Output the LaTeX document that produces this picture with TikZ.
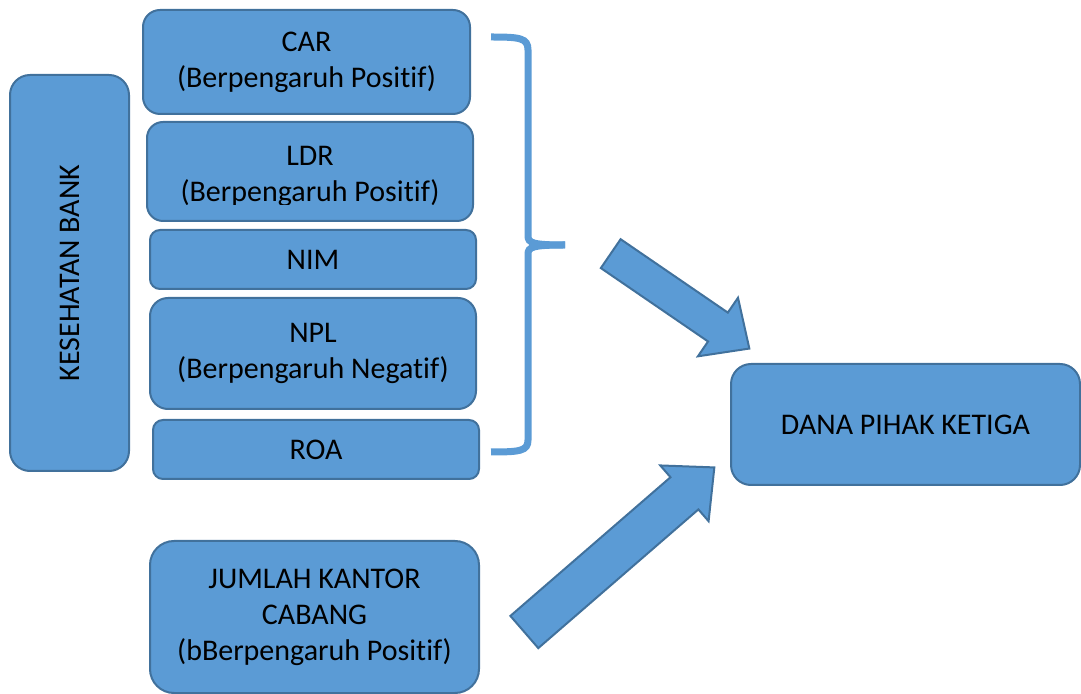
\documentclass[tikz,border=0pt]{standalone}
\usepackage{fontspec}
\setmainfont{Carlito}[Ligatures=NoCommon]
\usetikzlibrary{shapes.arrows}

\definecolor{boxfill}{HTML}{5B9BD5}
\definecolor{boxline}{HTML}{41719C}

\tikzset{
    box/.style={draw=boxline, fill=boxfill, line width=1pt, align=center,
        inner sep=0pt, rounded corners=#1,
        font=\fontsize{15pt}{18pt}\selectfont},
    box/.default=9pt,
    blockarrow/.style={draw=boxline, fill=boxfill, line width=1pt,
        single arrow, single arrow tip angle=86},
    bracket/.style={draw=boxfill, line width=3.5pt, line cap=butt}
}

\begin{document}
\begin{tikzpicture}[x=0.5pt, y=-0.5pt]
        \clip (0,0) rectangle (1081,694);

        % nodes kesehatan bank
        \node[box=10pt, minimum width=59.5pt, minimum height=198pt] (kes) at (69.5,273)
            {\rotatebox{90}{KESEHATAN BANK}};
        \node[box=8.5pt, minimum width=163.5pt, minimum height=52pt] (car) at (306.5,62)
            {CAR\\(Berpengaruh Positif)};
        \node[box=8pt, minimum width=163pt, minimum height=49.5pt] (ldr) at (310,171.5) {};
        \begin{scope}
            \clip (150,125) rectangle (470,205);
            \node[align=center, font=\fontsize{15pt}{18pt}\selectfont] (ldrtext) at (310,176)
                {LDR\\(Berpengaruh Positif)};
        \end{scope}
        \node[box=5pt, minimum width=163pt, minimum height=29.5pt] (nim) at (313,259.5) {NIM};
        \node[box=9pt, minimum width=163pt, minimum height=55.5pt] (npl) at (313,353.5)
            {NPL\\(Berpengaruh Negatif)};
        \node[box=5pt, minimum width=163pt, minimum height=29.5pt] (roa) at (316,449.5) {ROA};

        % nodes kantor cabang, dpk
        \node[box=12pt, minimum width=164.5pt, minimum height=76pt] (jkc) at (314.5,617)
            {JUMLAH KANTOR\\CABANG\\(bBerpengaruh Positif)};
        \node[box=10pt, minimum width=174.5pt, minimum height=60.5pt] (dpk) at (905.5,424.5)
            {DANA PIHAK KETIGA};

        % bracket
        \coordinate (tip) at (565,245);
        \draw[bracket] (491,37) .. controls (520,37) and (528,38) .. (528,50)
            -- (528,236) .. controls (528,243) and (533,245) .. (tip);
        \draw[bracket] (tip) .. controls (533,245) and (528,247) .. (528,254)
            -- (528,440) .. controls (528,451) and (520,452) .. (491,452);

        % block arrows
        \node[blockarrow, minimum height=84pt, inner sep=8.25pt,
            single arrow head extend=9pt, rotate=-34.4] (arrowA) at (672.3,295.8) {};
        \node[blockarrow, minimum height=125.7pt, inner sep=10.15pt,
            single arrow head extend=7.8pt, rotate=40.9] (arrowB) at (610.7,557.2) {};
    \end{tikzpicture}
\end{document}
